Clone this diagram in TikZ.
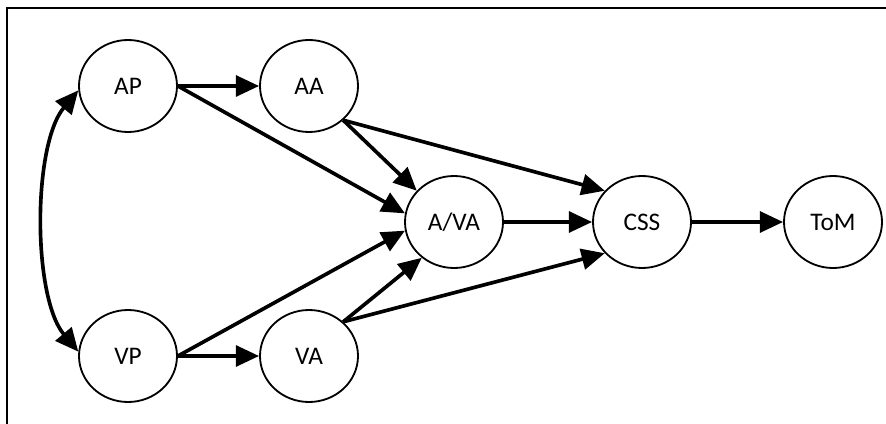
\documentclass[tikz,border=0pt]{standalone}
\usepackage{fontspec}
\setmainfont{Carlito}
\usepackage{tikz}
\usetikzlibrary{positioning}
\usetikzlibrary{arrows.meta}
\usetikzlibrary{shapes.geometric}

\begin{document}
\begin{tikzpicture}[state/.style = {draw, ellipse, line width=1.3pt, minimum width=2.45cm, minimum height=2.3cm, inner sep=0pt, font=\fontsize{18}{21}\selectfont},
    link/.style = {line width=2.6pt, -{Triangle[length=0.58cm, width=0.52cm]}},
    node distance=4.525cm, on grid]
    \useasboundingbox (-3.2,2.15) rectangle (18.95,-8.45);
    \draw[line width=1pt] (18.95,1.95) -- (-3.025,1.95) -- (-3.025,-8.45);
    \node[state](ap){AP};
    \node[state](aa)[right=of ap]{AA};
    \node[state](av)[below right=3.4cm and 3.625cm of aa]{A/VA};
    \node[state](css)[right=4.7cm of av]{CSS};
    \node[state](tom)[right=4.775cm of css]{ToM};
    \node[state](vp)[below=6.75cm of ap]{VP};
    \node[state](va)[right=of vp]{VA};
    \draw[link] (ap) -- (aa);
    \draw[link] (ap.east) -- (av.170);
    \draw[link] (aa.-45) -- (av.140);
    \draw[link] (aa.-45) -- (css.140);
    \draw[link] (vp) -- (va);
    \draw[link] (vp.east) -- (av.190);
    \draw[link] (va.45) -- (av.-132);
    \draw[link] (va.45) -- (css.-140);
    \draw[link] (av) -- (css);
    \draw[link] (css) -- (tom);
    \draw[link, {Triangle[length=0.58cm, width=0.52cm]}-{Triangle[length=0.58cm, width=0.52cm]}] (ap.185) to[out=230, in=130, looseness=0.7] (vp.175);
\end{tikzpicture}
\end{document}
